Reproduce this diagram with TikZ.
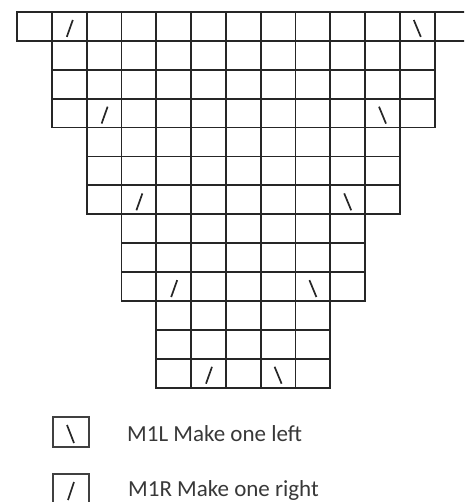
\documentclass[tikz,border=0pt]{standalone}
\usepackage{fontspec}
\setmainfont{Carlito}
\usetikzlibrary{calc}
\begin{document}
\begin{tikzpicture}[x=1pt,y=-1pt,
  cell/.style={draw=black!85, line width=1.8pt, minimum width=34.8pt, minimum height=28.9pt, inner sep=0pt, outer sep=0pt, anchor=north west},
  keybox/.style={draw=black!75, line width=1.7pt, minimum width=36pt, minimum height=30pt, inner sep=0pt, outer sep=0pt, anchor=north west},
  stroke/.style={draw=black!85, line width=1.7pt},
  legtext/.style={font=\fontsize{23}{27}\selectfont, text=black!78, anchor=base west, inner sep=0pt}]
\useasboundingbox (0,0) rectangle (464,502);
\clip (0,0) rectangle (464,502);
% grid
\foreach \r/\a/\b in {0/0/12,1/1/11,2/1/11,3/1/11,4/2/10,5/2/10,6/2/10,7/3/9,8/3/9,9/3/9,10/4/8,11/4/8,12/4/8}
  \foreach \c in {\a,...,\b}
    \node[cell] (c\r-\c) at ({17+34.8*\c},{12+28.9*\r}) {};
% make one right marks
\foreach \r/\c in {0/1,3/2,6/3,9/4,12/5}
  \draw[stroke] ($(c\r-\c.south west)+(15,-4)$) -- ($(c\r-\c.north west)+(21,8)$);
% make one left marks
\foreach \r/\c in {0/11,3/10,6/9,9/8,12/7}
  \draw[stroke] ($(c\r-\c.north west)+(14,8)$) -- ($(c\r-\c.south west)+(21,-4)$);
% legend
\node[keybox] (k1) at (53,417) {};
\draw[stroke] ($(k1.north west)+(14,8)$) -- ($(k1.south west)+(21,-4)$);
\node[legtext] (t1) at (127,441) {M1L Make one left};
\node[keybox] (k2) at (53,474) {};
\draw[stroke] ($(k2.south west)+(15,-4)$) -- ($(k2.north west)+(21,8)$);
\node[legtext] (t2) at (128,496) {M1R Make one right};
\end{tikzpicture}
\end{document}
